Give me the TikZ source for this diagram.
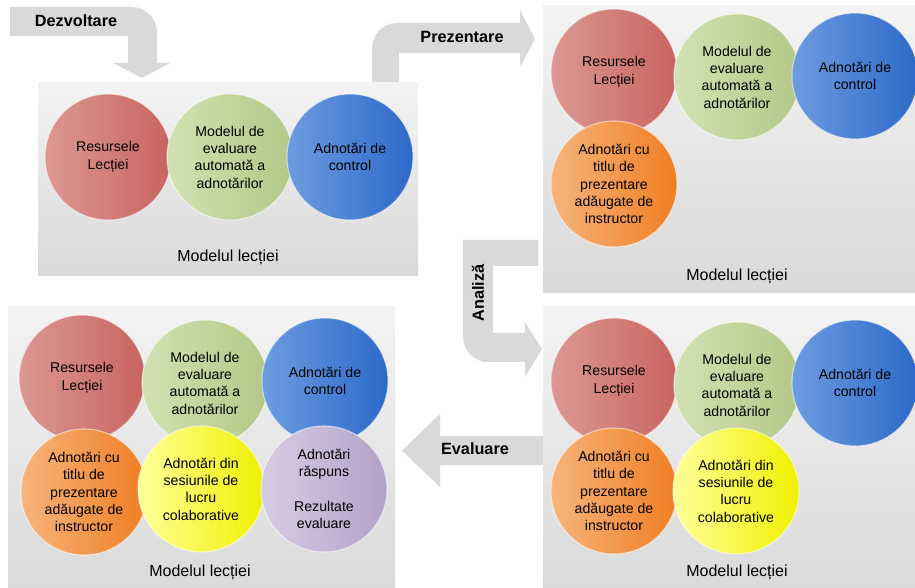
\documentclass[tikz,border=0pt]{standalone}
\usepackage{fontspec}
\setmainfont{Liberation Sans}
\definecolor{arrowgray}{HTML}{D9D9D9}
\definecolor{paneltop}{HTML}{F3F3F3}
\definecolor{panelbot}{HTML}{D9D9D9}
\definecolor{redL}{HTML}{DC9894}
\definecolor{redR}{HTML}{C9645F}
\definecolor{greenL}{HTML}{D2E1B2}
\definecolor{greenR}{HTML}{B3C788}
\definecolor{blueL}{HTML}{6D9CE0}
\definecolor{blueR}{HTML}{2C69C8}
\definecolor{orangeL}{HTML}{F7B47C}
\definecolor{orangeR}{HTML}{EF7E22}
\definecolor{yellowL}{HTML}{FFFF9A}
\definecolor{yellowR}{HTML}{F0F000}
\definecolor{purpleL}{HTML}{D7CDE3}
\definecolor{purpleR}{HTML}{B2A1C8}
\tikzset{
  panelbox/.style={top color=paneltop, bottom color=panelbot, draw=none},
  circ/.style={circle, minimum size=94.5pt, inner sep=0pt, align=center,
    font=\fontsize{10.6}{13}\selectfont, text=black,
    draw=white, draw opacity=0.55, line width=0.8pt},
  cred/.style={circ, left color=redL, right color=redR},
  cgreen/.style={circ, left color=greenL, right color=greenR},
  cblue/.style={circ, left color=blueL, right color=blueR},
  corange/.style={circ, left color=orangeL, right color=orangeR},
  cyellow/.style={circ, left color=yellowL, right color=yellowR},
  cpurple/.style={circ, left color=purpleL, right color=purpleR},
  blockarrow/.style={fill=arrowgray, draw=none},
  arrowlabel/.style={font=\fontsize{12.2}{14}\selectfont\bfseries, text=black, inner sep=0pt},
  panellabel/.style={font=\fontsize{12}{14}\selectfont, text=black, inner sep=0pt}
}
\begin{document}
\begin{tikzpicture}[x=0.75pt,y=-0.75pt]
\useasboundingbox (0,0) rectangle (915,588);
\clip (0,0) rectangle (915,588);

% block arrows
\fill[blockarrow] (10,7) -- (120,7) [rounded corners=19pt] -- (157,7) -- (157,50) [sharp corners]
  -- (157,63) -- (170,63) -- (142,78) -- (113,63) -- (128,63) -- (128,36) -- (10,36) -- cycle;
\fill[blockarrow] (372,83) -- (372,60) [rounded corners=19pt] -- (372,23) -- (410,23) [sharp corners]
  -- (520,23) -- (520,10) -- (535,39) -- (520,67) -- (520,53) -- (399,53) -- (399,83) -- cycle;
\fill[blockarrow] (538,240) -- (463,240) -- (463,320) [rounded corners=19pt] -- (463,362) -- (500,362) [sharp corners]
  -- (525,362) -- (525,377) -- (542,349) -- (525,322) -- (525,333) -- (493,333) -- (493,266) -- (538,266) -- cycle;
\fill[blockarrow] (543,436) -- (440,436) -- (440,414) -- (402,450.5) -- (440,487) -- (440,465) -- (543,465) -- cycle;

\node[arrowlabel] (lDez) at (76,21) {Dezvoltare};
\node[arrowlabel] (lPre) at (462,37) {Prezentare};
\node[arrowlabel, rotate=90] (lAna) at (478,293) {Analiză};
\node[arrowlabel] (lEva) at (475,448.5) {Evaluare};

% panels
\fill[panelbox] (38,83) rectangle (418,276);
\fill[panelbox] (543,6) rectangle (915,293);
\fill[panelbox] (543,307) rectangle (915,600);
\fill[panelbox] (8,307) rectangle (395,600);

% panel 1
\node[cred] (a1) at (108,157) {Resursele\\Lecției};
\node[cgreen] (b1) at (230,157) {Modelul de\\evaluare\\automată a\\adnotărilor};
\node[cblue] (c1) at (350,157) {Adnotări de\\control};
\node[panellabel] (m1) at (228,257) {Modelul lecției};

% panel 2
\node[cred] (a2) at (614,72) {Resursele\\Lecției};
\node[cgreen] (b2) at (737,77) {Modelul de\\evaluare\\automată a\\adnotărilor};
\node[cblue] (c2) at (855,76) {Adnotări de\\control};
\node[corange] (d2) at (614,184) {Adnotări cu\\titlu de\\prezentare\\adăugate de\\instructor};
\node[panellabel] (m2) at (737,276) {Modelul lecției};

% panel 3
\node[cred] (a3) at (614,381) {Resursele\\Lecției};
\node[cgreen] (b3) at (737,385) {Modelul de\\evaluare\\automată a\\adnotărilor};
\node[cblue] (c3) at (855,383) {Adnotări de\\control};
\node[corange] (d3) at (614,491) {Adnotări cu\\titlu de\\prezentare\\adăugate de\\instructor};
\node[cyellow] (e3) at (736,491) {Adnotări din\\sesiunile de\\lucru\\colaborative};
\node[panellabel] (m3) at (737,572) {Modelul lecției};

% panel 4
\node[cred] (a4) at (82,378) {Resursele\\Lecției};
\node[cgreen] (b4) at (205,383) {Modelul de\\evaluare\\automată a\\adnotărilor};
\node[cblue] (c4) at (325,381) {Adnotări de\\control};
\node[corange] (d4) at (84,492) {Adnotări cu\\titlu de\\prezentare\\adăugate de\\instructor};
\node[cyellow] (e4) at (201,489) {Adnotări din\\sesiunile de\\lucru\\colaborative};
\node[cpurple] (f4) at (324,489) {Adnotări\\răspuns\\[13pt]Rezultate\\evaluare};
\node[panellabel] (m4) at (200,572) {Modelul lecției};
\end{tikzpicture}
\end{document}
